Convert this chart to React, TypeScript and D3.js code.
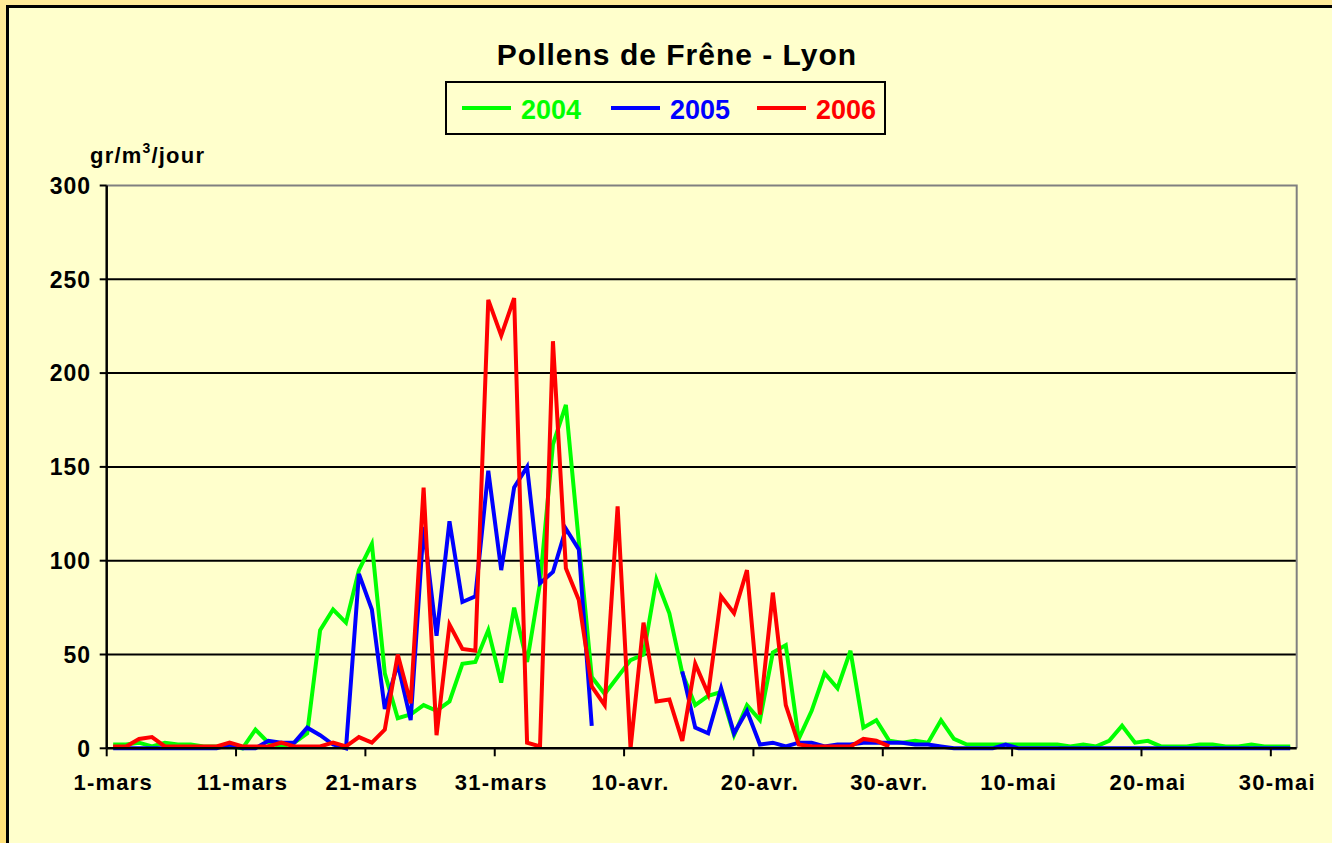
import * as d3 from "d3";

// daily pollen counts (grains/m3/day), 1 March -> 31 May
const pollen2004 = [
  2, 2, 3, 1, 3, 2, 2, 1, 1, 1,
  0, 10, 3, 1, 3, 8, 63, 74, 67, 95,
  109, 40, 16, 18, 23, 20, 25, 45, 46, 63,
  35, 75, 46, 88, 162, 183, 110, 38, 29, 38,
  47, 50, 90, 72, 40, 23, 28, 30, 7, 23,
  15, 51, 55, 5, 20, 40, 32, 52, 11, 15,
  4, 3, 4, 3, 15, 5, 2, 2, 2, 2,
  2, 2, 2, 2, 1, 2, 1, 4, 12, 3,
  4, 1, 1, 1, 2, 2, 1, 1, 2, 1,
  1, 1,
];
const pollen2005 = [
  0, 0, 0, 0, 0, 0, 0, 0, 0, 2,
  0, 0, 4, 3, 3, 11, 7, 2, 0, 93,
  74, 21, 45, 15, 118, 60, 121, 78, 81, 148,
  95, 139, 150, 88, 94, 117, 106, 12, null, null,
  null, null, null, null, 41, 11, 8, 32, 8, 20,
  2, 3, 1, 3, 3, 1, 2, 2, 3, 3,
  3, 3, 2, 2, 1, 0, 0, 0, 0, 2,
  0, 0, 0, 0, 0, 0, 0, 0, 0, 0,
  0, 0, 0, 0, 0, 0, 0, 0, 0, 0,
  0, 0,
];
const pollen2006 = [
  1, 1, 5, 6, 1, 1, 1, 1, 1, 3,
  1, 1, 1, 3, 1, 1, 1, 3, 1, 6,
  3, 10, 50, 24, 139, 7, 66, 53, 52, 239,
  220, 240, 3, 1, 217, 96, 79, 33, 23, 129,
  0, 67, 25, 26, 4, 45, 29, 81, 72, 95,
  18, 83, 23, 2, 1, 1, 1, 1, 5, 4,
  1, null, null, null, null, null, null, null, null, null,
  null, null, null, null, null, null, null, null, null, null,
  null, null, null, null, null, null, null, null, null, null,
  null, null,
];

const seriesNames = ["2004", "2005", "2006"];
const seriesColors = ["#00FF00", "#0000FF", "#FF0000"];
const tickLabels = ["1-mars", "11-mars", "21-mars", "31-mars", "10-avr.", "20-avr.", "30-avr.", "10-mai", "20-mai", "30-mai"];
const yTicks = [0, 50, 100, 150, 200, 250, 300];

const W = 1332;
const H = 843;
const plot = { left: 106.7, right: 1296.7, top: 185.5, bottom: 748.3 };
const font = "'Liberation Sans', Arial, Helvetica, sans-serif";

export default function App() {
  const days = d3.range(pollen2004.length);
  const x = d3.scaleBand<number>().domain(days).range([plot.left, plot.right]).padding(0);
  const y = d3.scaleLinear().domain([0, 300]).range([plot.bottom, plot.top]);
  const cx = (i: number) => (x(i) as number) + x.bandwidth() / 2;

  const line = d3
    .line<number | null>()
    .defined((d) => d != null)
    .x((_, i) => cx(i))
    .y((d) => y(d as number));

  const series = [pollen2004, pollen2005, pollen2006];

  // legend layout
  const legX = 446, legY = 82, legW = 439, legH = 52;
  const itemX = [462, 611, 757];

  return (
    <svg width={W} height={H} style={{ position: "absolute", left: 0, top: 0, display: "block" }} fontFamily={font}>
      <defs>
        <linearGradient id="bg" x1="0" y1="0" x2="0" y2="1">
          <stop offset="0" stopColor="#FFEB99" />
          <stop offset="1" stopColor="#FFE27A" />
        </linearGradient>
      </defs>
      <rect x={0} y={0} width={W} height={H} fill="url(#bg)" />
      <rect x={7.5} y={6.5} width={W + 20} height={H + 20} fill="#FFFFCC" stroke="#000" strokeWidth={3} />

      {/* title */}
      <text x={677} y={65} textAnchor="middle" fontSize={30} fontWeight="bold" letterSpacing={1}>
        Pollens de Frêne - Lyon
      </text>

      {/* legend */}
      <rect x={legX} y={legY} width={legW} height={legH} fill="#FFFFCC" stroke="#000" strokeWidth={2} />
      {seriesNames.map((n, k) => (
        <g key={n}>
          <line x1={itemX[k]} x2={itemX[k] + 49} y1={108} y2={108} stroke={seriesColors[k]} strokeWidth={4} />
          <text x={itemX[k] + 59} y={119} fontSize={27} fontWeight="bold" fill={seriesColors[k]}>
            {n}
          </text>
        </g>
      ))}

      {/* y axis title */}
      <text x={90} y={163} fontSize={22} fontWeight="bold" letterSpacing={1.2}>
        gr/m<tspan dy={-10} fontSize={14}>3</tspan>
        <tspan dy={10}>/jour</tspan>
      </text>

      {/* gridlines */}
      {yTicks.filter((t) => t > 0 && t < 300).map((t) => (
        <line key={t} x1={plot.left} x2={plot.right} y1={y(t)} y2={y(t)} stroke="#000" strokeWidth={2} />
      ))}
      {/* plot border top/right */}
      <path
        d={`M${plot.left},${plot.top}H${plot.right}V${plot.bottom}`}
        fill="none"
        stroke="#808080"
        strokeWidth={2}
      />

      {/* y axis */}
      <line x1={plot.left} x2={plot.left} y1={plot.top} y2={plot.bottom} stroke="#000" strokeWidth={2.5} />
      {yTicks.map((t) => (
        <g key={t}>
          <line x1={plot.left - 7} x2={plot.left} y1={y(t)} y2={y(t)} stroke="#000" strokeWidth={2} />
          <text x={91} y={y(t)} dy="0.36em" textAnchor="end" fontSize={23} fontWeight="bold" letterSpacing={1}>
            {t}
          </text>
        </g>
      ))}

      {/* lines */}
      {series.map((s, k) => (
        <path key={k} d={line(s) || ""} fill="none" stroke={seriesColors[k]} strokeWidth={4} />
      ))}

      {/* x axis */}
      <line x1={plot.left} x2={plot.right} y1={plot.bottom} y2={plot.bottom} stroke="#000" strokeWidth={2.5} />
      {tickLabels.map((lab, k) => {
        const i = k * 10;
        const tx = x(i) as number;
        return (
          <g key={lab}>
            <line x1={tx} x2={tx} y1={plot.bottom} y2={plot.bottom + 8} stroke="#000" strokeWidth={2} />
            <text x={cx(i)} y={790} textAnchor="middle" fontSize={22} fontWeight="bold" letterSpacing={1.2}>
              {lab}
            </text>
          </g>
        );
      })}
    </svg>
  );
}
